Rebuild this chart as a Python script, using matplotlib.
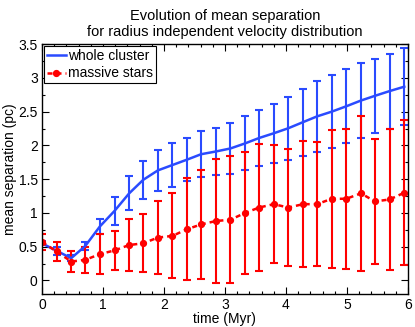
import numpy as np
import matplotlib
matplotlib.use("Agg")
import matplotlib.pyplot as plt
from matplotlib.ticker import MultipleLocator
from matplotlib.lines import Line2D

plt.rcParams['font.family'] = ['Liberation Sans', 'DejaVu Sans']

# time (Myr)
time = [0.00, 0.24, 0.48, 0.71, 0.95, 1.19, 1.43, 1.66, 1.90, 2.14, 2.38, 2.61, 2.85,
        3.09, 3.33, 3.56, 3.80, 4.04, 4.28, 4.51, 4.75, 4.99, 5.23, 5.46, 5.70, 5.94]

# whole cluster
whole_mean = [0.55, 0.44, 0.33, 0.51, 0.80, 1.03, 1.29, 1.49, 1.63, 1.71, 1.79, 1.87, 1.91,
              1.955, 2.03, 2.11, 2.18, 2.255, 2.345, 2.43, 2.50, 2.58, 2.665, 2.735, 2.805, 2.87]
whole_err = [0.03, 0.06, 0.04, 0.06, 0.11, 0.21, 0.25, 0.28, 0.30, 0.32, 0.32, 0.34, 0.35,
             0.375, 0.40, 0.42, 0.44, 0.465, 0.495, 0.52, 0.54, 0.55, 0.555, 0.545, 0.555, 0.57]

# massive stars
massive_mean = [0.57, 0.43, 0.28, 0.305, 0.39, 0.445, 0.525, 0.55, 0.635, 0.66, 0.76, 0.83, 0.88,
                0.90, 1.00, 1.08, 1.13, 1.08, 1.13, 1.13, 1.21, 1.21, 1.29, 1.17, 1.20, 1.30]
massive_err = [0.12, 0.135, 0.16, 0.195, 0.30, 0.285, 0.385, 0.43, 0.545, 0.63, 0.76, 0.81, 0.92,
               0.94, 0.90, 0.94, 0.87, 0.86, 0.93, 0.92, 1.02, 1.04, 1.15, 0.92, 1.04, 1.07]

labels = ['whole cluster', 'massive stars']

blue = '#2a4bff'
red = '#ff0000'
dash = (0, (2, 1.6))

fig = plt.figure(figsize=(4.15, 3.27), dpi=100)
ax = fig.add_axes([0.101, 0.101, 0.882, 0.764])

ax.errorbar(time, whole_mean, yerr=whole_err, color=blue, lw=1.8, elinewidth=1.5,
            capsize=2.8, capthick=1.5)
ax.errorbar(time, massive_mean, yerr=massive_err, color=red, lw=1.8, ls=dash,
            marker='o', ms=4.2, elinewidth=1.5, capsize=2.8, capthick=1.5)

ax.set_xlim(0, 6)
ax.set_ylim(-0.2, 3.5)
ax.xaxis.set_major_locator(MultipleLocator(1))
ax.xaxis.set_minor_locator(MultipleLocator(0.2))
ax.yaxis.set_minor_locator(MultipleLocator(0.25))
ax.set_yticks([0, 0.5, 1, 1.5, 2, 2.5, 3, 3.5])
ax.set_yticklabels(['0', '0.5', '1', '1.5', '2', '2.5', '3', '3.5'])
ax.tick_params(which='both', direction='in', top=True, right=True, labelsize=10, width=0.8)
ax.tick_params(which='major', length=5, pad=3)
ax.tick_params(which='minor', length=2.5)
for s in ax.spines.values():
    s.set_linewidth(1.0)

ax.set_xlabel('time (Myr)', fontsize=10, labelpad=0)
ax.set_ylabel('mean separation (pc)', fontsize=10, labelpad=1)
ax.set_title('Evolution of mean separation\nfor radius independent velocity distribution',
             fontsize=10.5, pad=6, linespacing=1.15)

handles = [Line2D([], [], color=blue, lw=1.8),
           Line2D([], [], color=red, lw=1.8, ls=dash, marker='o', ms=4.2)]
leg = ax.legend(handles, labels, loc='upper left', fontsize=10, handlelength=1.4,
                handletextpad=0.15, borderpad=0.2, labelspacing=0.25, borderaxespad=0.15,
                fancybox=False, framealpha=1, edgecolor='black')
leg.get_frame().set_linewidth(0.8)

fig.savefig('out.png', dpi=100)
